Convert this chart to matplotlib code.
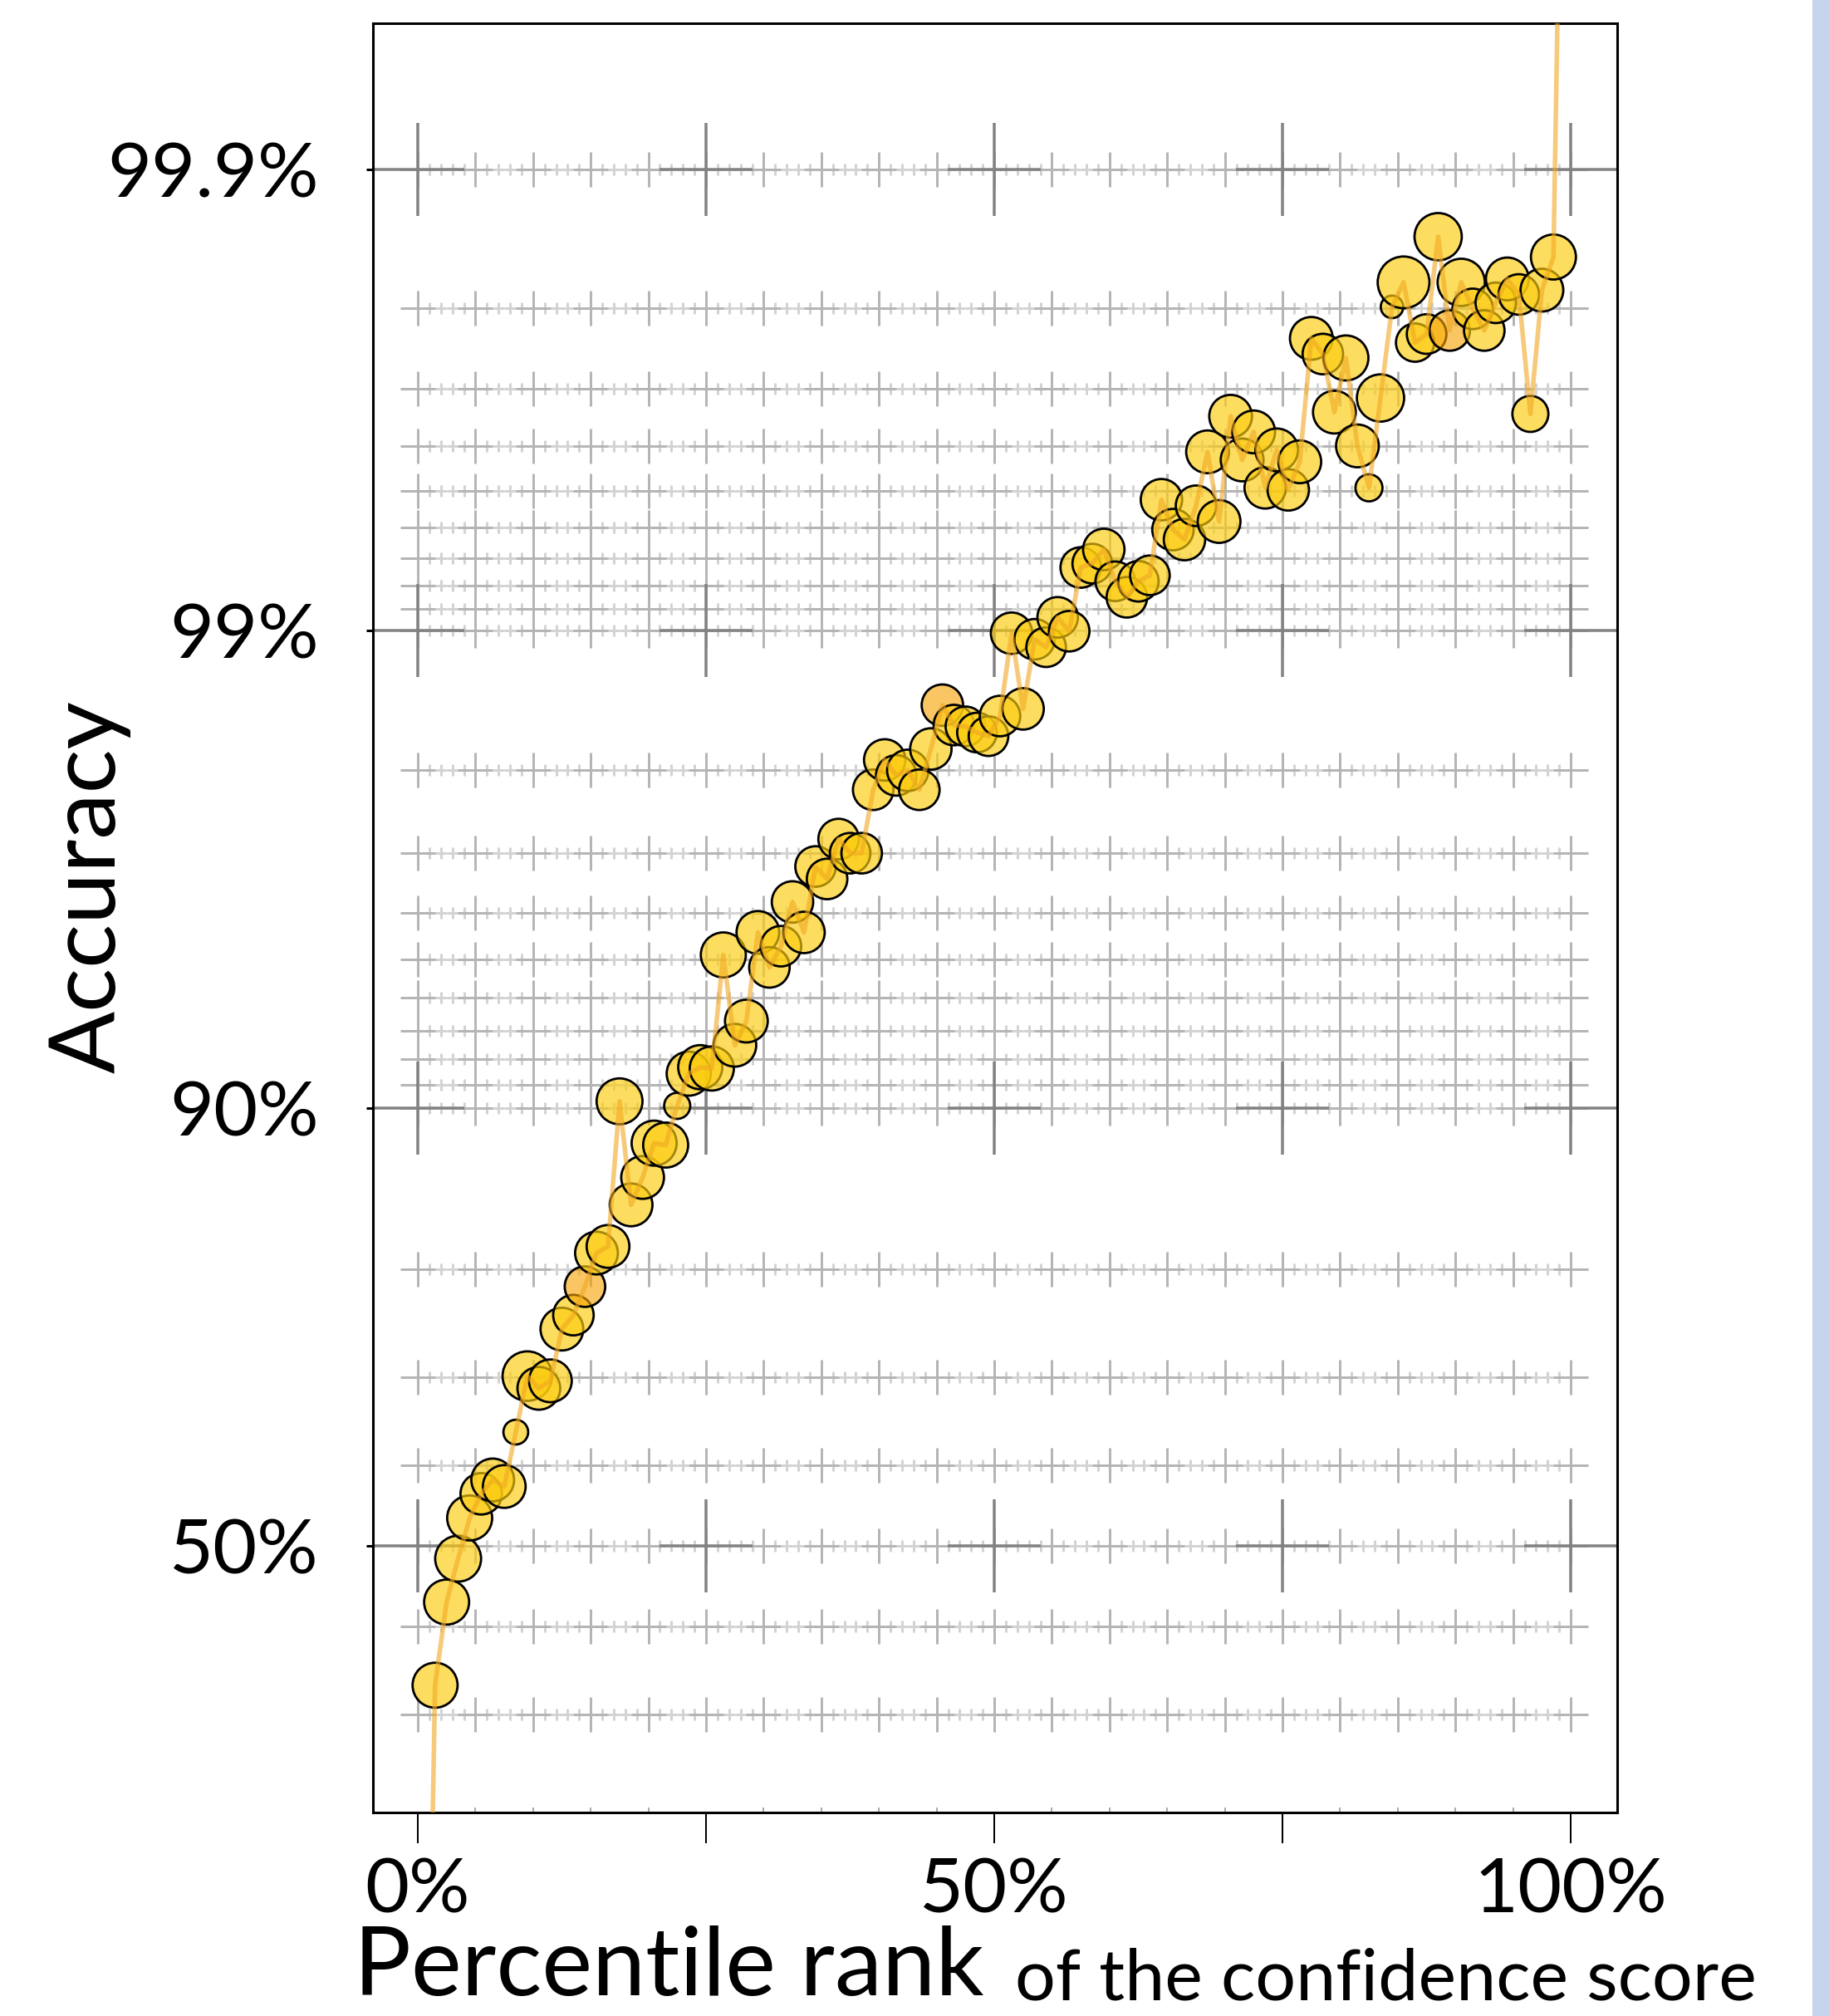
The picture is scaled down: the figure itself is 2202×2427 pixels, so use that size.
import matplotlib
matplotlib.use("Agg")
import matplotlib.pyplot as plt
from matplotlib.patches import Rectangle
from matplotlib.ticker import FixedLocator, NullLocator
import numpy as np

plt.rcParams['font.family'] = ['Lato', 'DejaVu Sans']

# percentile rank of the confidence score (bin centres, %)
rank = [
    0.5, 1.5, 2.5, 3.5, 4.5, 5.5, 6.5, 7.5, 8.5, 9.5,
    10.5, 11.5, 12.5, 13.5, 14.5, 15.5, 16.5, 17.5, 18.5, 19.5,
    20.5, 21.5, 22.5, 23.5, 24.5, 25.5, 26.5, 27.5, 28.5, 29.5,
    30.5, 31.5, 32.5, 33.5, 34.5, 35.5, 36.5, 37.5, 38.5, 39.5,
    40.5, 41.5, 42.5, 43.5, 44.5, 45.5, 46.5, 47.5, 48.5, 49.5,
    50.5, 51.5, 52.5, 53.5, 54.5, 55.5, 56.5, 57.5, 58.5, 59.5,
    60.5, 61.5, 62.5, 63.5, 64.5, 65.5, 66.5, 67.5, 68.5, 69.5,
    70.5, 71.5, 72.5, 73.5, 74.5, 75.5, 76.5, 77.5, 78.5, 79.5,
    80.5, 81.5, 82.5, 83.5, 84.5, 85.5, 86.5, 87.5, 88.5, 89.5,
    90.5, 91.5, 92.5, 93.5, 94.5, 95.5, 96.5, 97.5, 98.5, 99.5,
]

# accuracy in each bin (%)
accuracy = [
    2.0, 33.2, 43.0, 48.4, 53.5, 56.5, 58.2, 57.4, 63.9, 70.1,
    68.8, 69.6, 74.8, 76.1, 78.6, 81.3, 81.8, 90.3, 84.7, 86.4,
    88.3, 88.2, 90.1, 91.45, 91.7, 91.65, 95.1, 92.5, 93.3, 95.6,
    94.8, 95.3, 96.2, 95.6, 96.8, 96.6, 97.2, 97.0, 97.0, 97.8,
    98.1, 97.95, 98.0, 97.8, 98.2, 98.55, 98.4, 98.39, 98.34, 98.31,
    98.47, 98.985, 98.523, 98.954, 98.912, 99.062, 98.995, 99.268, 99.282, 99.331,
    99.216, 99.151, 99.216, 99.239, 99.478, 99.394, 99.363, 99.462, 99.589, 99.418,
    99.656, 99.572, 99.628, 99.508, 99.593, 99.503, 99.568, 99.767, 99.748, 99.663,
    99.743, 99.601, 99.508, 99.686, 99.801, 99.824, 99.762, 99.772, 99.860, 99.776,
    99.824, 99.799, 99.776, 99.805, 99.827, 99.813, 99.660, 99.817, 99.845, 99.995,
]

# relative bubble diameter (0 = no bubble)
dot_scale = [
    0, 1.0, 1.0, 1.02, 1.0, 0.92, 0.95, 0.95, 0.55, 1.1,
    0.95, 0.95, 0.95, 0.9, 0.9, 0.95, 0.95, 1.02, 0.95, 0.95,
    1.0, 1.0, 0.58, 0.98, 0.98, 0.98, 1.0, 0.95, 0.95, 0.95,
    0.9, 0.9, 0.92, 0.92, 0.9, 0.9, 0.9, 0.9, 0.9, 0.9,
    0.92, 0.9, 0.92, 0.9, 0.92, 0.92, 0.9, 0.88, 0.88, 0.88,
    0.9, 0.92, 0.92, 0.9, 0.88, 0.9, 0.9, 0.9, 0.88, 0.92,
    0.88, 0.9, 0.9, 0.88, 0.92, 0.92, 0.92, 0.9, 0.95, 0.95,
    0.95, 0.95, 0.95, 0.92, 0.95, 0.92, 0.95, 0.95, 0.9, 0.95,
    1.0, 0.95, 0.6, 1.05, 0.5, 1.15, 0.85, 0.88, 1.05, 0.9,
    1.05, 0.9, 0.9, 0.9, 0.95, 0.9, 0.8, 0.95, 1.0, 0,
]
orange_bins = [14.5, 45.5, 89.5]

y_major = [0.5, 0.9, 0.99, 0.999]
y_major_labels = ["50%", "90%", "99%", "99.9%"]
y_minor = [0.3, 0.4, 0.6, 0.7, 0.8,
           0.91, 0.92, 0.93, 0.94, 0.95, 0.96, 0.97, 0.98,
           0.991, 0.992, 0.993, 0.994, 0.995, 0.996, 0.997, 0.998]
x_major = [0, 25, 50, 75, 100]
x_major_labels = ["0%", "", "50%", "", "100%"]

PT = 72 / 100  # points per pixel at dpi 100

fig = plt.figure(figsize=(22.02, 24.27), dpi=100)
ax = fig.add_axes([0.2039, 0.1009, 0.6803, 0.8876])
ax.set_yscale("logit")
ax.set_xlim(-3.89, 104.03)
ax.set_ylim(0.2078, 0.99952)

# crosshair style grid
fine_x = np.arange(0, 101, 1)
mid_x = np.arange(0, 101, 5)
for yv in y_major + y_minor:
    ax.plot(fine_x, [yv] * len(fine_x), ls='none', marker='+', ms=14 * PT,
            mew=3 * PT, color='#d3d3d3', zorder=1)
    ax.plot(mid_x, [yv] * len(mid_x), ls='none', marker='+', ms=42 * PT,
            mew=3 * PT, color='#b5b5b5', zorder=1.1)
for yv in y_major:
    ax.plot(x_major, [yv] * len(x_major), ls='none', marker='+', ms=112 * PT,
            mew=3.5 * PT, color='#828282', zorder=1.2)

# bubbles + connecting line
acc = [a / 100 for a in accuracy]
bx = [r for r, d in zip(rank, dot_scale) if d > 0]
by = [a for a, d in zip(acc, dot_scale) if d > 0]
bs = [(39 * d) ** 2 for d in dot_scale if d > 0]
bc = [(0.97, 0.64, 0.02, 0.62) if r in orange_bins else (0.99, 0.80, 0.05, 0.66) for r in bx]
ax.scatter(bx, by, s=bs, facecolors=bc, edgecolors='black', linewidths=2.0, zorder=3)
ax.plot(rank, acc, color='#F0A821', alpha=0.6, lw=4, zorder=4, solid_capstyle='butt')

# ticks
ax.xaxis.set_major_locator(FixedLocator(x_major))
ax.set_xticklabels(x_major_labels)
ax.xaxis.set_minor_locator(FixedLocator(list(mid_x)))
ax.tick_params(axis='x', which='major', direction='out', length=37 * PT, width=2 * PT,
               color='black', pad=12, labelsize=66)
ax.tick_params(axis='x', which='minor', direction='in', length=6 * PT, width=2 * PT,
               color='#aaaaaa')
ax.set_yticks(y_major)
ax.set_yticklabels(y_major_labels)
ax.yaxis.set_minor_locator(NullLocator())
ax.tick_params(axis='y', which='major', direction='out', length=8 * PT, width=3 * PT,
               color='black', pad=41, labelsize=66)
for s in ax.spines.values():
    s.set_linewidth(2.2)
    s.set_color('black')

# axis titles
t_y = fig.text(0.049, 0.56, "Accuracy", rotation=90, ha='center', va='center', fontsize=80)
t_x1 = fig.text(426 / 2202, 0.002, "Percentile rank", ha='left', va='bottom', fontsize=86)
t_x2 = fig.text(1222 / 2202, 0.002, "of the confidence score", ha='left', va='bottom', fontsize=64)

# fit title sizes to the reference extents
fig.canvas.draw()
r = fig.canvas.get_renderer()
for t, target, use_h in [(t_y, 449, True), (t_x1, 759, False), (t_x2, 892, False)]:
    bb = t.get_window_extent(r)
    cur = bb.height if use_h else bb.width
    t.set_fontsize(t.get_fontsize() * target / cur)

# blue strip on the right edge
fig.add_artist(Rectangle((2182 / 2202, 0), 20 / 2202, 1, transform=fig.transFigure,
                         color='#C6D4EE', lw=0))

fig.savefig("out.png", dpi=100)
